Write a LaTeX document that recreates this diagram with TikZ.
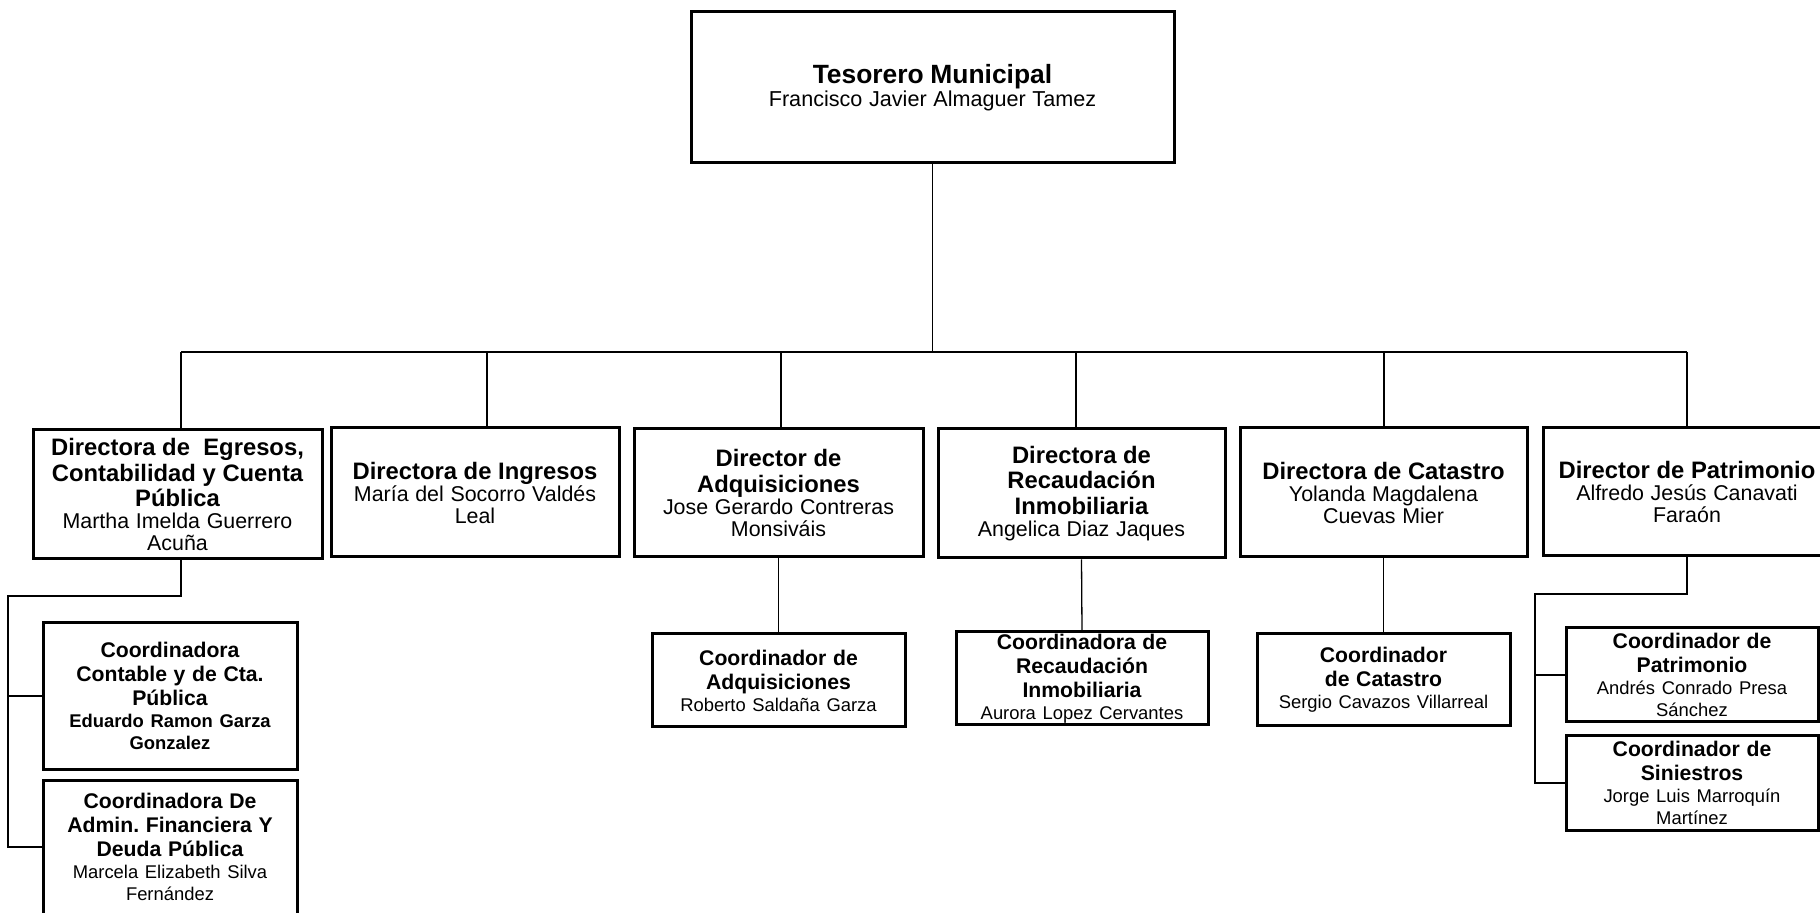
\documentclass[tikz,border=0pt]{standalone}
\usepackage{fontspec}
\setmainfont{Liberation Sans}
\frenchspacing
\newcommand{\tT}[1]{{\fontsize{13.2}{14}\selectfont\bfseries #1\par}}
\newcommand{\tN}[1]{{\fontsize{10.8}{10}\selectfont #1\par}}
\newcommand{\dT}[1]{{\fontsize{11.9}{12.8}\selectfont\bfseries #1\par}}
\newcommand{\dN}[1]{{\fontsize{10.7}{11}\selectfont #1\par}}
\newcommand{\cT}[1]{{\fontsize{10.6}{12}\selectfont\bfseries #1\par}}
\newcommand{\cN}[1]{{\fontsize{9.2}{11}\selectfont #1\par}}
\newcommand{\cNB}[1]{{\fontsize{9.2}{11}\selectfont\bfseries #1\par}}
\tikzset{
  box/.style 2 args={draw, line width=1.5pt, rectangle, inner sep=0pt,
    align=center, text width=#1, minimum height=#2},
  conn/.style={line width=0.65pt}
}
\begin{document}
\begin{tikzpicture}[x=0.5pt,y=-0.5pt]
\useasboundingbox (0,0) rectangle (1820,913);
\fill[white] (0,0) rectangle (1820,913);
\clip (0,0) rectangle (1820,913);

% top
\node[box={241.5pt}{75.5pt}] (T) at (932.5,87.5)
  {\tT{Tesorero Municipal}\tN{Francisco Javier Almaguer Tamez}};

% directors
\node[box={144.5pt}{64.5pt}] (D1) at (177.5,494.5)
  {\dT{Directora de \ Egresos,}\dT{Contabilidad y Cuenta}\dT{Pública}\dN{Martha Imelda Guerrero}\dN{Acuña}};
\node[box={144pt}{64.5pt}] (D2) at (475,492.5)
  {\dT{Directora de Ingresos}\dN{María del Socorro Valdés}\dN{Leal}};
\node[box={144.5pt}{64pt}] (D3) at (778.5,493)
  {\dT{Director de}\dT{Adquisiciones}\dN{Jose Gerardo Contreras}\dN{Monsiváis}};
\node[box={143.5pt}{64.5pt}] (D4) at (1081.5,493.5)
  {\dT{Directora de}\dT{Recaudación}\dT{Inmobiliaria}\dN{Angelica Diaz Jaques}};
\node[box={143.5pt}{64.5pt}] (D5) at (1383.5,492.5)
  {\dT{Directora de Catastro}\dN{Yolanda Magdalena}\dN{Cuevas Mier}};
\node[box={144pt}{64pt}] (D6) at (1687,492)
  {\dT{Director de Patrimonio}\dN{Alfredo Jesús Canavati}\dN{Faraón}};

% coordinators
\node[box={127pt}{73pt}] (C1a) at (170,696)
  {\cT{Coordinadora}\cT{Contable y de Cta.}\cT{Pública}\cNB{Eduardo Ramon Garza}\cNB{Gonzalez}};
\node[box={127pt}{67pt}] (C1b) at (170,847)
  {\cT{Coordinadora De}\cT{Admin. Financiera Y}\cT{Deuda Pública}\cN{Marcela Elizabeth Silva}\cN{Fernández}};
\node[box={126.5pt}{46.5pt}] (C3) at (778.5,680.5)
  {\cT{Coordinador de}\cT{Adquisiciones}\cN{Roberto Saldaña Garza}};
\node[box={126pt}{46.5pt}] (C4) at (1082,678.5)
  {\cT{Coordinadora de}\cT{Recaudación}\cT{Inmobiliaria}\cN{Aurora Lopez Cervantes}};
\node[box={126.5pt}{46pt}] (C5) at (1383.5,680)
  {\cT{Coordinador}\cT{de Catastro}\cN{Sergio Cavazos Villarreal}};
\node[box={126pt}{47pt}] (C6a) at (1692,675)
  {\cT{Coordinador de}\cT{Patrimonio}\cN{Andrés Conrado Presa}\cN{Sánchez}};
\node[box={126pt}{47pt}] (C6b) at (1692,783)
  {\cT{Coordinador de}\cT{Siniestros}\cN{Jorge Luis Marroquín}\cN{Martínez}};

% bus coordinates
\coordinate (b1) at (181,352);
\coordinate (b2) at (487,352);
\coordinate (b3) at (781,352);
\coordinate (b4) at (1076,352);
\coordinate (b5) at (1384,352);
\coordinate (b6) at (1687,352);
\coordinate (e0) at (181,596);
\coordinate (e1) at (8,596);
\coordinate (p0) at (1687,594);
\coordinate (p1) at (1535,594);

% connectors
\draw[conn] (T.south) -- (T.south |- b1);
\draw[conn] (b1) -- (b6);
\draw[conn] (b1) -- (b1 |- D1.north);
\draw[conn] (b2) -- (b2 |- D2.north);
\draw[conn] (b3) -- (b3 |- D3.north);
\draw[conn] (b4) -- (b4 |- D4.north);
\draw[conn] (b5) -- (b5 |- D5.north);
\draw[conn] (b6) -- (D6.north);

\draw[conn] (e0 |- D1.south) -- (e0) -- (e1) |- (C1b.west);
\draw[conn] (e1 |- C1a.west) -- (C1a.west);
\draw[conn] (D3.south) -- (C3.north);
\draw[conn] (D4.south) -- (C4.north);
\draw[conn] (D5.south) -- (C5.north);
\draw[conn] (D6.south) -- (p0) -- (p1) |- (C6b.west);
\draw[conn] (p1 |- C6a.west) -- (C6a.west);
\end{tikzpicture}
\end{document}
